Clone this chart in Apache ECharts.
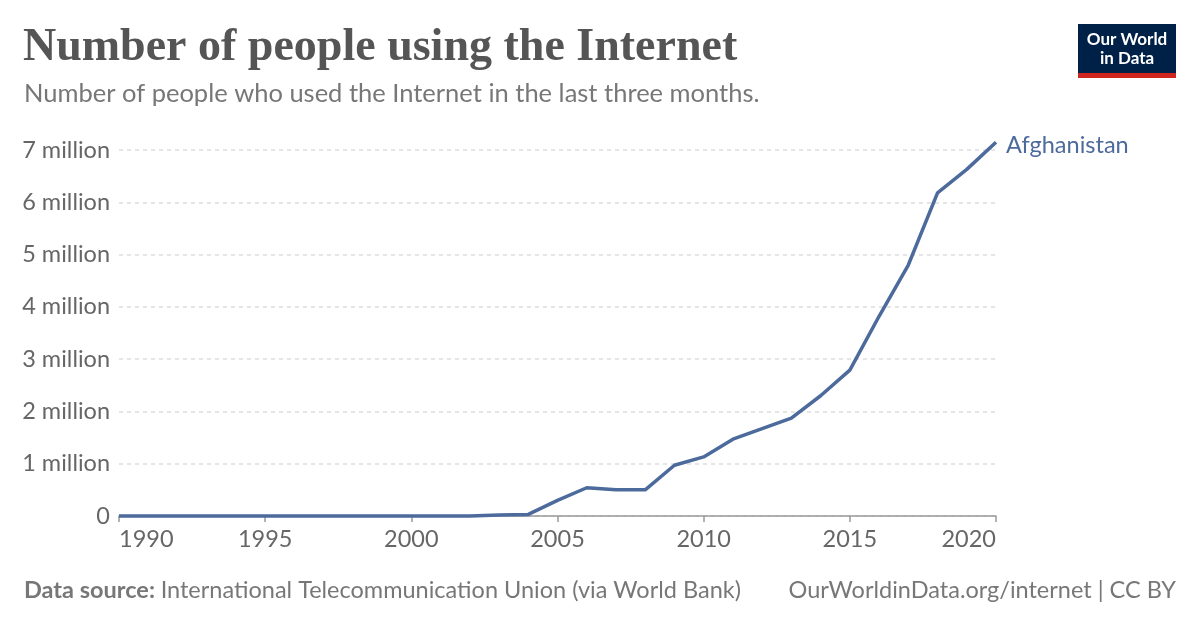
<!DOCTYPE html>
<html>
<head>
<meta charset="utf-8">
<script src="https://cdn.jsdelivr.net/npm/echarts@6/dist/echarts.min.js"></script>
<style>
html,body{margin:0;padding:0;background:#fff;}
#chart{width:1200px;height:628px;}
</style>
</head>
<body>
<div id="chart"></div>
<script>
const years = [1990,1991,1992,1993,1994,1995,1996,1997,1998,1999,2000,2001,2002,2003,2004,2005,2006,2007,2008,2009,2010,2011,2012,2013,2014,2015,2016,2017,2018,2019,2020];
const internetUsers = [0,0,0,0,0,0,0,0,0,0,0,0,1000,20000,30000,300000,540000,500000,500000,970000,1130000,1470000,1670000,1870000,2300000,2790000,3820000,4800000,6180000,6630000,7150000];
const seriesName = 'Afghanistan';
const yTicks = [0,1e6,2e6,3e6,4e6,5e6,6e6,7e6];
const xTicks = [1990,1995,2000,2005,2010,2015,2020];

const chart = echarts.init(document.getElementById('chart'), null, {renderer:'canvas'});
const sans = 'Lato, "Noto Sans", sans-serif';
const option = {
  animation:false,
  backgroundColor:'#fff',
  title:[{
    text:'Number of people using the Internet',
    left:23, top:25, padding:0,
    textStyle:{fontFamily:'"Liberation Serif", "DejaVu Serif", serif', fontWeight:'bold', fontSize:46, color:'#555'}
  },{
    text:'Number of people who used the Internet in the last three months.',
    left:24, top:81, padding:0,
    textStyle:{fontFamily:sans, fontWeight:'normal', fontSize:25.5, color:'#777'}
  }],
  grid:{left:119, right:204, top:150, bottom:112, containLabel:false},
  xAxis:{
    type:'value', min:xTicks[0], max:xTicks[xTicks.length-1], interval:5,
    axisLine:{show:true, lineStyle:{color:'#999', width:1.5}},
    axisTick:{show:true, length:6, lineStyle:{color:'#999', width:1.5}},
    axisLabel:{fontFamily:sans, fontSize:23.5, color:'#666', margin:11, formatter:v=>String(v),
      alignMinLabel:'left', alignMaxLabel:'right'},
    splitLine:{show:false}
  },
  yAxis:{
    type:'value', min:yTicks[0], max:yTicks[yTicks.length-1], interval:1e6,
    axisLine:{show:false}, axisTick:{show:false},
    axisLabel:{fontFamily:sans, fontSize:23.5, color:'#666', margin:9,
      formatter:v=> v===0 ? '0' : (v/1e6)+' million'},
    splitLine:{show:true, lineStyle:{color:'#ddd', type:[4,4], width:1.5}}
  },
  series:[{
    name:seriesName, type:'line', clip:false, symbol:'none',
    data: years.map((y,i)=>[y, internetUsers[i]]),
    lineStyle:{color:'#4C6A9C', width:3.5},
    endLabel:{show:true, formatter:'{a}', fontFamily:sans, fontSize:23.5, color:'#4C6A9C', offset:[2,3]},
    z:5
  }],
  graphic:[
    {type:'rect', shape:{x:1078,y:24,width:98,height:50}, style:{fill:'#002147'}},
    {type:'rect', shape:{x:1078,y:73,width:98,height:5}, style:{fill:'#CE261E'}},
    {type:'text', x:1127, y:30, style:{text:'Our World\nin Data', fill:'#fff', font:'bold 17px Lato, sans-serif', align:'center', lineHeight:19}},
    {type:'text', x:24, y:578, style:{rich:{b:{font:'bold 23.5px Lato, sans-serif', fill:'#777'}, n:{font:'23.5px Lato, sans-serif', fill:'#777'}}, text:'{b|Data source: }{n|International Telecommunication Union (via World Bank)}'}},
    {type:'text', x:1176, y:578, style:{text:'OurWorldinData.org/internet | CC BY', font:'23.5px Lato, sans-serif', fill:'#777', align:'right'}}
  ]
};
chart.setOption(option);
</script>
</body>
</html>
